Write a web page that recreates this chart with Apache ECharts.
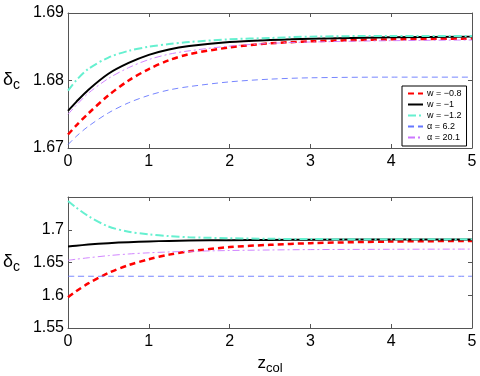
<!DOCTYPE html>
<html>
<head>
<meta charset="utf-8">
<script src="https://cdn.jsdelivr.net/npm/echarts@6/dist/echarts.min.js"></script>
<style>html,body{margin:0;padding:0;background:#fff}#c{width:480px;height:376px}</style>
</head>
<body>
<div id="c"></div>
<script>
// x positions (z_col)
const zTop = [0, 0.1, 0.25, 0.5, 0.75, 1, 1.25, 1.5, 2, 2.5, 3, 4, 5];
const topW08  = [1.6720, 1.6733, 1.6751, 1.6778, 1.6800, 1.6817, 1.6830, 1.6839, 1.6849, 1.6855, 1.6858, 1.6861, 1.6862];
const topW1   = [1.6755, 1.6768, 1.6786, 1.6810, 1.6826, 1.6838, 1.6846, 1.6851, 1.6857, 1.6860, 1.6862, 1.6864, 1.6865];
const topW12  = [1.6785, 1.6800, 1.6817, 1.6834, 1.6844, 1.6850, 1.6854, 1.6857, 1.6861, 1.6863, 1.6865, 1.6866, 1.6866];
const topA62  = [1.6705, 1.6717, 1.6732, 1.6752, 1.6767, 1.6778, 1.6786, 1.6791, 1.6798, 1.6802, 1.6804, 1.6805, 1.6805];
const topA201 = [1.6750, 1.6763, 1.6781, 1.6803, 1.6819, 1.6831, 1.6839, 1.6844, 1.6851, 1.6855, 1.6857, 1.6859, 1.6860];

const zBot = [0, 0.1, 0.25, 0.5, 0.75, 1, 1.25, 1.5, 2, 2.5, 3, 4, 5];
const botW08  = [1.597, 1.606, 1.618, 1.634, 1.646, 1.655, 1.662, 1.667, 1.6735, 1.677, 1.6795, 1.682, 1.683];
const botW1   = [1.6745, 1.6757, 1.6773, 1.6795, 1.6811, 1.6822, 1.6830, 1.6835, 1.6841, 1.6845, 1.6848, 1.6852, 1.6853];
const botW12  = [1.744, 1.734, 1.721, 1.705, 1.697, 1.693, 1.6903, 1.6886, 1.687, 1.6862, 1.6858, 1.6855, 1.6855];
const botA62  = [1.629, 1.629, 1.629, 1.629, 1.629, 1.629, 1.629, 1.629, 1.629, 1.629, 1.629, 1.629, 1.629];
const botA201 = [1.6534, 1.6550, 1.6572, 1.6605, 1.6630, 1.6648, 1.6661, 1.6670, 1.6683, 1.6691, 1.6697, 1.6702, 1.6705];

const names = ['w = \u22120.8', 'w = \u22121', 'w = \u22121.2', '\u03b1 = 6.2', '\u03b1 = 20.1'];
const xTicks = [0, 5, 1];
const yTopTicks = [1.67, 1.69, 0.01];
const yBotTicks = [1.55, 1.75, 0.05];

const FONT = 'Liberation Sans, Arial, sans-serif';
const AX = '#555';
const styles = [
  {color: '#ff0000', width: 2.5, type: [6, 4]},
  {color: '#000000', width: 2, type: 'solid'},
  {color: '#66f0d0', width: 2, type: [8, 3, 2, 3]},
  {color: '#6677ff', width: 0.9, type: [6, 4]},
  {color: '#cc77ff', width: 0.9, type: [7, 3, 2, 3]}
];

function pairs(xs, ys) { return xs.map((x, i) => [x, ys[i]]); }

const grids = [
  {left: 67, right: 8, top: 13, height: 135},
  {left: 67, right: 8, top: 197, height: 135}
];

function xAx(gi, main) {
  return {
    type: 'value', gridIndex: gi, min: xTicks[0], max: xTicks[1], interval: xTicks[2],
    position: main ? 'bottom' : 'top',
    axisLine: {show: true, onZero: false, lineStyle: {color: AX, width: 1}},
    axisTick: {show: true, inside: true, length: 4, lineStyle: {color: AX}},
    axisLabel: {show: main, color: '#000', fontSize: 16, fontFamily: FONT, margin: 6},
    splitLine: {show: false},
    name: (main && gi === 1) ? '{z|z}{s|col}' : '',
    nameLocation: 'middle', nameGap: 24,
    nameTextStyle: {rich: {z: {fontSize: 17, fontFamily: FONT, color: '#000'}, s: {fontSize: 13, fontFamily: FONT, color: '#000', padding: [10, 0, 0, 0]}}}
  };
}
function yAx(gi, main, t) {
  return {
    type: 'value', gridIndex: gi, min: t[0], max: t[1], interval: t[2],
    position: main ? 'left' : 'right',
    axisLine: {show: true, onZero: false, lineStyle: {color: AX, width: 1}},
    axisTick: {show: true, inside: true, length: 4, lineStyle: {color: AX}},
    axisLabel: {show: main, color: '#000', fontSize: 16, fontFamily: FONT, margin: 4,
      showMaxLabel: gi === 0, formatter: v => String(+v.toFixed(2))},
    splitLine: {show: false},
    name: main ? '{d|\u03b4}{s|c}' : '',
    nameLocation: 'middle', nameRotate: 0, nameGap: 48,
    nameTextStyle: {rich: {d: {fontSize: 18, fontFamily: FONT, color: '#000'}, s: {fontSize: 14, fontFamily: FONT, color: '#000', padding: [10, 0, 0, 0]}}}
  };
}

const topData = [topW08, topW1, topW12, topA62, topA201];
const botData = [botW08, botW1, botW12, botA62, botA201];
const series = [];
const order = [3, 4, 0, 2, 1];
order.forEach(i => {
  series.push({name: names[i], type: 'line', xAxisIndex: 0, yAxisIndex: 0, data: pairs(zTop, topData[i]),
    smooth: 0.3, symbol: 'none', color: styles[i].color,
    itemStyle: {color: styles[i].color}, lineStyle: styles[i], z: 3 + i, animation: false});
});
order.forEach(i => {
  series.push({name: names[i], type: 'line', xAxisIndex: 2, yAxisIndex: 2, data: pairs(zBot, botData[i]),
    smooth: 0.3, symbol: 'none', color: styles[i].color,
    itemStyle: {color: styles[i].color}, lineStyle: styles[i], z: 3 + i, animation: false});
});

const chart = echarts.init(document.getElementById('c'), null, {renderer: 'canvas'});
chart.setOption({
  backgroundColor: '#fff',
  animation: false,
  grid: grids,
  xAxis: [xAx(0, true), xAx(0, false), xAx(1, true), xAx(1, false)],
  yAxis: [yAx(0, true, yTopTicks), yAx(0, false, yTopTicks), yAx(1, true, yBotTicks), yAx(1, false, yBotTicks)],
  legend: {
    data: names, orient: 'vertical', left: 402, top: 86,
    itemWidth: 15, itemHeight: 8, itemGap: 2, padding: [3, 5, 4, 5],
    backgroundColor: '#fff', borderColor: '#000', borderWidth: 1, borderRadius: 0,
    itemStyle: {opacity: 0, borderWidth: 0},
    textStyle: {fontSize: 9, fontFamily: FONT, color: '#000', padding: [0, 0, 0, -1]},
    selectedMode: false
  },
  series: series
});
</script>
</body>
</html>
